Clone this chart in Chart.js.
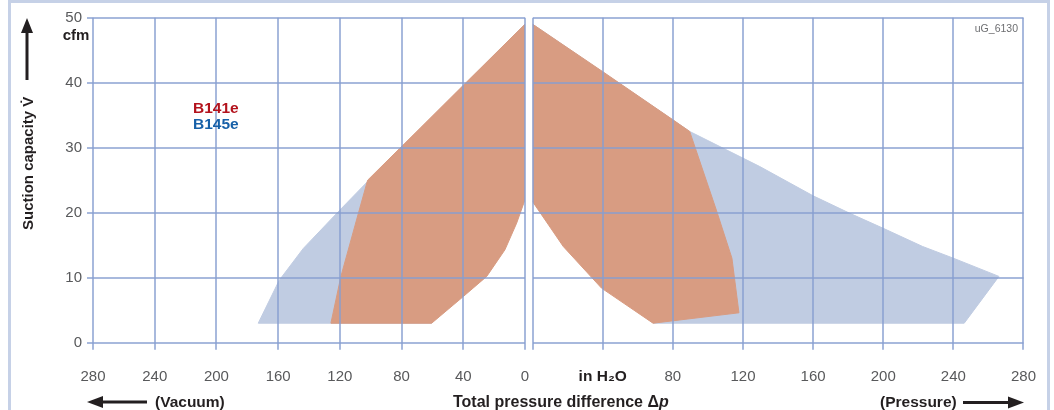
<!DOCTYPE html>
<html><head><meta charset="utf-8">
<script src="https://cdn.jsdelivr.net/npm/chart.js@4.4.1/dist/chart.umd.min.js"></script>
<style>
html,body{margin:0;padding:0;background:#fff;}
#wrap{position:relative;width:1054px;height:410px;overflow:hidden;font-family:"Liberation Sans",Arial,sans-serif;}
canvas{position:absolute;left:0;top:0;}
.t{position:absolute;white-space:nowrap;font-weight:bold;color:#231f20;}
#frame{position:absolute;left:8px;top:0;width:1036px;height:430px;border:3px solid #c6d1e7;border-bottom:none;}
svg{position:absolute;left:0;top:0;pointer-events:none;}
</style></head>
<body><div id="wrap">
<div id="frame"></div>
<canvas id="cL" width="1054" height="410"></canvas>
<canvas id="cR" width="1054" height="410"></canvas>
<div class="t" style="right:964.7px;top:27.3px;font-size:15px;line-height:15px;">cfm</div>
<div class="t" style="left:193px;top:100.2px;font-size:15.5px;line-height:15.5px;color:#b3121c;">B141e</div>
<div class="t" style="left:193px;top:115.5px;font-size:15.5px;line-height:15.5px;color:#1660a8;">B145e</div>
<div class="t" style="right:36px;top:22.8px;font-size:10.5px;line-height:10.5px;font-weight:normal;color:#6d6e71;">uG_6130</div>
<div class="t" style="left:155px;top:394.4px;font-size:15.5px;line-height:15.5px;">(Vacuum)</div>
<div class="t" style="left:453px;top:394px;font-size:16px;line-height:16px;">Total pressure difference Δ<i>p</i></div>
<div class="t" style="left:880px;top:394.4px;font-size:15.5px;line-height:15.5px;">(Pressure)</div>
<div class="t" style="left:19.8px;top:230px;font-size:15px;line-height:15px;transform-origin:0 0;transform:rotate(-90deg);">Suction capacity V̇</div>
<svg width="1054" height="410" viewBox="0 0 1054 410">
  <line x1="101" y1="402" x2="147" y2="402" stroke="#231f20" stroke-width="3"/>
  <polygon points="87,402 103,396 103,408" fill="#231f20"/>
  <line x1="963" y1="402.5" x2="1010" y2="402.5" stroke="#231f20" stroke-width="3"/>
  <polygon points="1024,402.5 1008,396.5 1008,408.5" fill="#231f20"/>
  <line x1="27" y1="80" x2="27" y2="31" stroke="#231f20" stroke-width="3"/>
  <polygon points="27,18 21,33 33,33" fill="#231f20"/>
</svg>
</div>
<script>
// Tick values
const pressureTicks = [0, 40, 80, 120, 160, 200, 240, 280];
const capacityTicks = [0, 10, 20, 30, 40, 50];

// Vacuum side (left panel), x = vacuum in H2O, y = cfm
const b141eVacuumX = [0, 40, 68, 102, 108, 119.3, 125.8, 60.5, 40, 24.8, 13, 5.4, 0];
const b141eVacuumY = [49.0, 39.6, 33.0, 25.0, 19.9, 10.2, 3.0, 3.0, 7.1, 10.2, 14.3, 18.4, 22.0];
const b145eVacuumX = [0, 102, 120, 143.7, 159.3, 172.9, 60.5, 0];
const b145eVacuumY = [49.0, 24.8, 20.4, 14.5, 9.6, 3.0, 3.0, 22.0];

// Pressure side (right panel)
const b141ePressureX = [0, 40, 80, 89.6, 104.8, 113.7, 117.7, 68.7, 39.3, 17.5, 9.9, 0];
const b141ePressureY = [49.0, 41.7, 34.3, 32.5, 20.4, 13.0, 4.6, 3.0, 8.4, 14.8, 17.8, 21.7];
const b145ePressureX = [0, 89.6, 129.6, 160, 181, 200, 222.5, 240, 266, 246.2, 68.7, 0];
const b145ePressureY = [49.0, 32.5, 27.1, 22.6, 19.9, 17.6, 14.8, 13.0, 10.2, 3.0, 3.0, 21.7];

const orange = '#d89c82';
const blue = '#c0cce2';
const gridColor = 'rgba(135,158,208,0.72)';
const FAM = '"Liberation Sans", Arial, sans-serif';

function pts(xs, ys) { return xs.map((x, i) => ({ x: x, y: ys[i] })); }
function poly(label, xs, ys, color) {
  return { label: label, data: pts(xs, ys), showLine: true, fill: 'shape',
    backgroundColor: color, borderColor: color, borderWidth: 1, pointRadius: 0, tension: 0 };
}
function setTicks(arr) { return s => { s.ticks = arr.map(v => ({ value: v })); }; }

const common = { responsive: false, animation: false, devicePixelRatio: 1,
  plugins: { legend: { display: false }, tooltip: { enabled: false } } };

new Chart(document.getElementById('cL'), {
  type: 'scatter',
  data: { datasets: [
    poly('B141e', b141eVacuumX, b141eVacuumY, orange),
    poly('B145e', b145eVacuumX, b145eVacuumY, blue)
  ] },
  options: Object.assign({}, common, {
    layout: { padding: { left: 0, top: 17.7, right: 529, bottom: 0 } },
    scales: {
      x: { type: 'linear', reverse: true, min: 0, max: 280,
        afterBuildTicks: setTicks(pressureTicks), afterFit: s => { s.height = 67.3; },
        grid: { color: gridColor, lineWidth: 2, tickLength: 7, z: 1 },
        border: { display: false },
        ticks: { color: '#58595b', font: { family: FAM, size: 15 }, padding: 18, maxRotation: 0, autoSkip: false } },
      y: { type: 'linear', min: 0, max: 50,
        afterBuildTicks: setTicks(capacityTicks), afterFit: s => { s.width = 93; },
        grid: { color: gridColor, lineWidth: 2, tickLength: 6, z: 1 },
        border: { display: false },
        ticks: { color: '#58595b', font: { family: FAM, size: 15 }, padding: 5 } }
    }
  })
});

new Chart(document.getElementById('cR'), {
  type: 'scatter',
  data: { datasets: [
    poly('B141e', b141ePressureX, b141ePressureY, orange),
    poly('B145e', b145ePressureX, b145ePressureY, blue)
  ] },
  options: Object.assign({}, common, {
    layout: { padding: { left: 532.6, top: 17.7, right: 29.7, bottom: 0 } },
    scales: {
      x: { type: 'linear', min: 0, max: 280,
        afterBuildTicks: setTicks(pressureTicks), afterFit: s => { s.height = 67.3; },
        grid: { color: gridColor, lineWidth: 2, tickLength: 7, z: 1 },
        border: { display: false },
        ticks: { autoSkip: false, maxRotation: 0, padding: 18,
          callback: v => (v === 0 ? '' : v === 40 ? 'in H₂O' : String(v)),
          color: c => (c.tick && c.tick.value === 40 ? '#231f20' : '#58595b'),
          font: c => (c.tick && c.tick.value === 40 ? { family: FAM, size: 15.5, weight: 'bold' } : { family: FAM, size: 15 }) } },
      y: { type: 'linear', min: 0, max: 50,
        afterBuildTicks: setTicks(capacityTicks), afterFit: s => { s.width = 0; },
        grid: { color: gridColor, lineWidth: 2, drawTicks: false, z: 1 },
        border: { display: false },
        ticks: { display: false } }
    }
  })
});
</script>
</body></html>
